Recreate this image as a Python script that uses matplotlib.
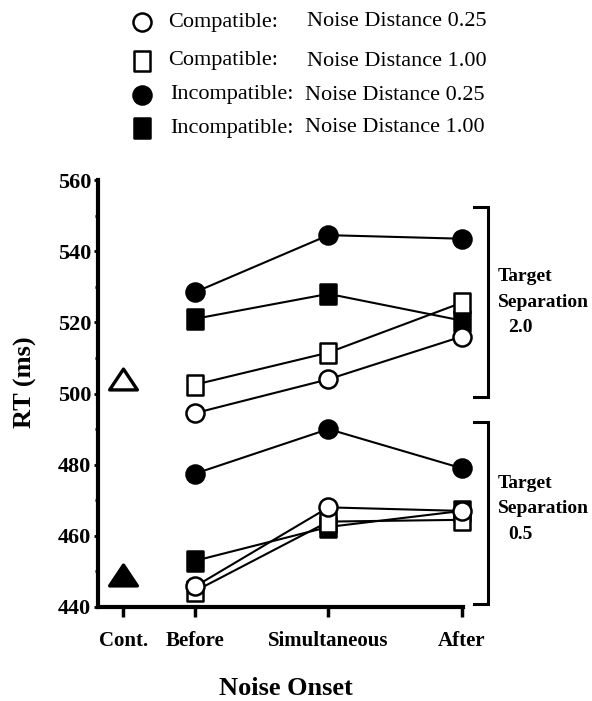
import matplotlib
matplotlib.use("Agg")
import matplotlib.pyplot as plt
from matplotlib.lines import Line2D
from matplotlib.path import Path

plt.rcParams["font.family"] = ["Liberation Serif", "DejaVu Serif"]

# categories and positions on the onset axis
x_labels = ["Cont.", "Before", "Simultaneous", "After"]
x_pos = [0.46, 1.0, 2.0, 3.0]
onset_pos = x_pos[1:]

# target separation 2.0
comp_025_sep20 = [494.5, 504.0, 516.0]
comp_100_sep20 = [502.5, 511.5, 525.5]
inc_025_sep20 = [528.5, 544.5, 543.5]
inc_100_sep20 = [521.0, 528.0, 520.5]

# target separation 0.5
comp_025_sep05 = [445.8, 468.0, 467.0]
comp_100_sep05 = [444.5, 464.0, 464.5]
inc_025_sep05 = [477.5, 490.0, 479.0]
inc_100_sep05 = [453.0, 462.5, 467.0]

# control condition
control_sep20 = 504.0
control_sep05 = 449.0

legend_kinds = ["Compatible:", "Compatible:", "Incompatible:", "Incompatible:"]
legend_dist = ["Noise Distance 0.25", "Noise Distance 1.00",
               "Noise Distance 0.25", "Noise Distance 1.00"]

rect = Path([(-0.8, -1), (0.8, -1), (0.8, 1), (-0.8, 1), (-0.8, -1)], closed=True)
tri = Path([(-1, -0.75), (1, -0.75), (0, 0.75), (-1, -0.75)], closed=True)

styles = {
    "oc": dict(marker="o", ms=13, mfc="white", mec="black", mew=1.8),
    "os": dict(marker=rect, ms=14, mfc="white", mec="black", mew=1.8),
    "fc": dict(marker="o", ms=13, mfc="black", mec="black", mew=1.8),
    "fs": dict(marker=rect, ms=14, mfc="black", mec="black", mew=1.8),
}

W, H = 592, 701
fig = plt.figure(figsize=(W / 100, H / 100), dpi=100)
ax = fig.add_axes([98 / W, 1 - 607 / H, 365 / W, 427 / H])

# draw order: filled squares, filled circles, open squares, open circles
series = [
    (inc_100_sep20, "fs"), (inc_025_sep20, "fc"), (comp_100_sep20, "os"), (comp_025_sep20, "oc"),
    (inc_100_sep05, "fs"), (inc_025_sep05, "fc"), (comp_100_sep05, "os"), (comp_025_sep05, "oc"),
]
for vals, key in series:
    ax.plot(onset_pos, vals, color="black", lw=1.5, clip_on=False, **styles[key])

ax.plot([x_pos[0]], [control_sep20], marker=tri, ms=20, mfc="white", mec="black",
        mew=2.4, ls="none", clip_on=False)
ax.plot([x_pos[0]], [control_sep05], marker=tri, ms=20, mfc="black", mec="black",
        mew=2.4, ls="none", clip_on=False)

ax.set_xlim(0.27, 3.01)
ax.set_ylim(440, 560)
ax.set_xticks(x_pos)
ax.set_xticklabels(x_labels, fontsize=15, fontweight="bold")
ax.set_yticks(range(440, 561, 20))
ax.set_yticks(range(450, 560, 20), minor=True)
for lab in ax.get_yticklabels():
    lab.set_fontweight("bold")
    lab.set_fontsize(16)

for s in ["top", "right"]:
    ax.spines[s].set_visible(False)
ax.spines["left"].set_linewidth(3)
ax.spines["bottom"].set_linewidth(3)
ax.tick_params(axis="x", length=7.5, width=2.5, pad=10)
ax.tick_params(axis="y", which="major", length=3, width=2, pad=2)
ax.tick_params(axis="y", which="minor", length=2.5, width=2)

ax.set_ylabel("RT (ms)", fontsize=19, fontweight="bold", va="center")
ax.yaxis.set_label_coords(-0.2, 0.527)
ax.set_xlabel("Noise Onset", fontsize=19, fontweight="bold", va="center")
ax.xaxis.set_label_coords(0.515, -0.19)

# brackets for target separation
for top, bot in [(552.5, 499.0), (492.0, 440.8)]:
    ax.plot([3.09, 3.195, 3.195, 3.09], [top, top, bot, bot], color="black",
            lw=2.2, clip_on=False, solid_joinstyle="miter")

for y0, val in [(532.8, "2.0"), (474.8, "0.5")]:
    ax.text(3.27, y0, "Target", fontsize=14, fontweight="bold", va="center", ha="left")
    ax.text(3.27, y0 - 7.2, "Separation", fontsize=14, fontweight="bold", va="center", ha="left")
    ax.text(3.35, y0 - 14.3, val, fontsize=14, fontweight="bold", va="center", ha="left")

# legend drawn at the top of the figure
legend_keys = ["oc", "os", "fc", "fs"]
row_y = [22, 61, 95, 128]
for key, kind, dist, ry in zip(legend_keys, legend_kinds, legend_dist, row_y):
    fy = 1 - ry / H
    fig.add_artist(Line2D([142 / W], [fy], transform=fig.transFigure, ls="none", **styles[key]))
    kx = 168 if kind.startswith("C") else 170
    dx = 307 if kind.startswith("C") else 305
    fig.text(kx / W, fy, kind, fontsize=16, va="center", ha="left")
    fig.text(dx / W, fy, dist, fontsize=16, va="center", ha="left")

fig.savefig("out.png", dpi=100)
